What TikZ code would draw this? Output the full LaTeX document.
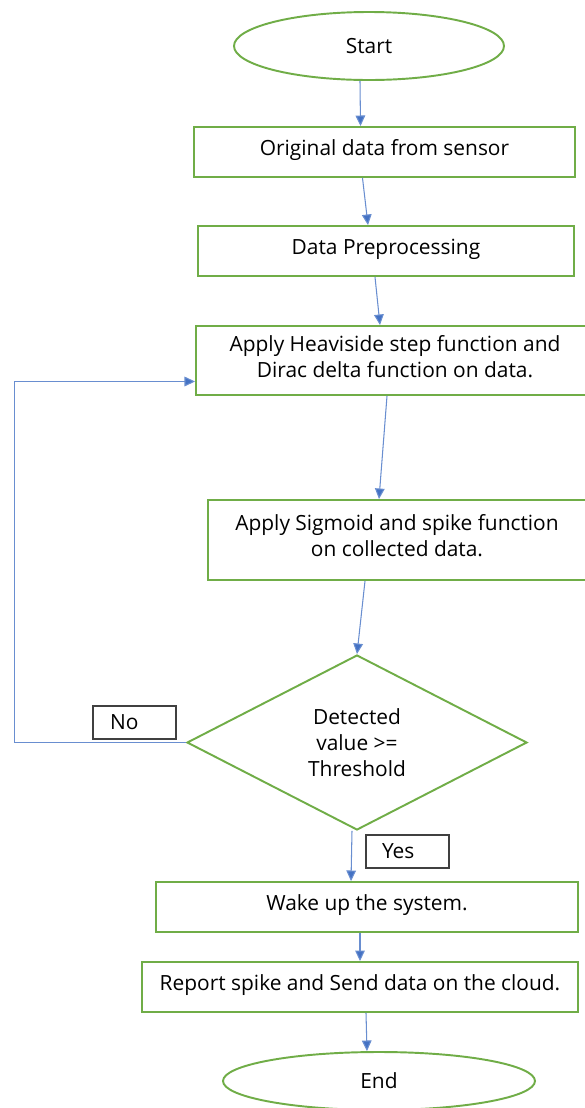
\documentclass[tikz,border=0pt]{standalone}
\usepackage{fontspec}
\setmainfont{Open Sans}
\usetikzlibrary{shapes,arrows.meta,positioning}
\definecolor{boxgreen}{RGB}{112,173,71}
\definecolor{arrowblue}{RGB}{68,114,196}
\definecolor{labelgray}{RGB}{64,64,64}
\tikzset{
    % Flowchart shape styles
    terminal/.style={
        ellipse, draw=boxgreen, line width=1.1pt, fill=white,
        inner sep=0pt
    },
    process/.style={
        rectangle, draw=boxgreen, line width=1.1pt, fill=white,
        minimum height=1cm, align=center, inner sep=0pt,
        text depth=0.5em
    },
    decision/.style={
        diamond, draw=boxgreen, line width=1.1pt, fill=white,
        minimum width=6.8cm, minimum height=3.5cm,
        align=center, inner sep=0pt
    },
    answer/.style={
        rectangle, draw=labelgray, line width=0.6pt, fill=white,
        minimum height=0.66cm, inner xsep=0.34cm,
        text width=0.98cm, align=left
    },
    flow/.style={
        draw=arrowblue!80, line width=0.6pt,
        -{Triangle[width=5.5pt,length=6pt,fill=arrowblue]}
    }
}

\begin{document}
\begin{tikzpicture}[font=\fontsize{11.9}{14.8}\selectfont]

\useasboundingbox (0,0) rectangle (11.68,-22.16);

% Start and the processing chain
\node[terminal, minimum width=5.4cm, minimum height=1.36cm] (start) at (7.38,-0.92) {Start};
\node[process, minimum width=7.62cm] (orig) at (7.69,-3.04) {Original data from sensor};
\node[process, minimum width=7.52cm] (prep) at (7.72,-5.02) {Data Preprocessing};
\node[process, minimum width=7.96cm, minimum height=1.38cm] (heav) at (7.9,-7.21)
    {Apply Heaviside step function and\\Dirac delta function on data.};
\node[process, minimum width=7.56cm, minimum height=1.6cm] (sig) at (7.94,-10.8)
    {Apply Sigmoid and spike function\\on collected data.};

% Threshold check
\node[decision] (check) at (7.14,-14.85) {Detected\\value >=\\Threshold};
\node[answer] (no) at (2.69,-14.45) {No};
\node[answer, text width=1.02cm, inner xsep=0.32cm] (yes) at (8.15,-17.03) {Yes};

% Wake up and report
\node[process, minimum width=8.44cm] (wake) at (7.34,-18.14) {Wake up the system.};
\node[process, minimum width=8.72cm] (report) at (7.2,-19.74) {Report spike and Send data on the cloud.};
\node[terminal, minimum width=6.24cm, minimum height=1.16cm] (end) at (7.58,-21.62) {End};

% Arrows between steps
\draw[flow] ([xshift=-0.18cm]start.south) -- ([xshift=-0.48cm]orig.north);
\draw[flow] ([xshift=-0.44cm]orig.south) -- ([xshift=-0.36cm]prep.north);
\draw[flow] ([xshift=-0.22cm]prep.south) -- ([xshift=-0.30cm]heav.north);
\draw[flow] ([xshift=-0.16cm]heav.south) -- ([xshift=-0.36cm]sig.north);
\draw[flow] ([xshift=-0.64cm]sig.south) -- (check.north);
\draw[flow] ([xshift=-0.1cm]check.south) -- ([xshift=-0.32cm]wake.north);
\draw[flow] ([xshift=-0.14cm]wake.south) -- (report.north);
\draw[flow] ([xshift=0.12cm]report.south) -- ([xshift=-0.24cm]end.north);

% Loop back when below threshold
\draw[flow] (check.west) -- ++(-3.44,0) |- ([yshift=-0.42cm]heav.west);

\end{tikzpicture}
\end{document}
